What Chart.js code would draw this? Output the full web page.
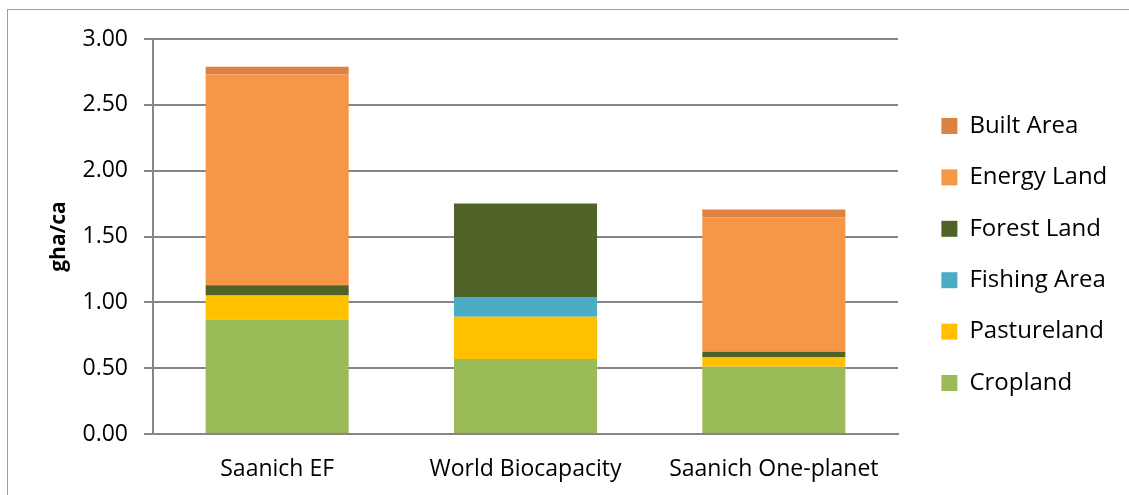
<!DOCTYPE html>
<html>
<head>
<meta charset="utf-8">
<script src="https://cdn.jsdelivr.net/npm/chart.js@4.4.1/dist/chart.umd.min.js"></script>
<style>
  html, body { margin: 0; padding: 0; background: #ffffff; }
  #wrap { position: relative; width: 1129px; height: 495px; overflow: hidden; }
  #frame { position: absolute; left: 7px; top: 9px; width: 1200px; height: 600px;
           border-top: 1.5px solid #a0a0a0; border-left: 1.5px solid #a0a0a0; }
  canvas { position: absolute; left: 0; top: 0; }
</style>
</head>
<body>
<div id="wrap">
  <div id="frame"></div>
  <canvas id="c" width="1129" height="495"></canvas>
</div>
<script>
const categories = ['Saanich EF', 'World Biocapacity', 'Saanich One-planet'];
const cropland    = [0.87, 0.57, 0.51];
const pastureland = [0.18, 0.32, 0.075];
const fishingArea = [0.005, 0.15, 0.0];
const forestLand  = [0.075, 0.71, 0.04];
const energyLand  = [1.60, 0.0, 1.02];
const builtArea   = [0.06, 0.0, 0.06];
const yTickValues = [0, 0.5, 1.0, 1.5, 2.0, 2.5, 3.0];

const FONT = '"Open Sans", "DejaVu Sans", sans-serif';
const GRID = '#868686';
const LEGEND_GAP = 16;
const LEGEND_WIDTH = 213;

const ds = (label, data, color) => ({
  label, data, backgroundColor: color, borderWidth: 0,
  barPercentage: 0.576, categoryPercentage: 1.0
});

const legendGapPlugin = {
  id: 'legendGap',
  afterInit(chart) {
    const lg = chart.legend;
    if (lg && !lg._patched) {
      const origFit = lg.fit;
      lg.fit = function () {
        origFit.call(this);
        this.width = LEGEND_WIDTH;
        this.right = this.left + this.width;
      };
      lg._patched = true;
    }
  },
  afterLayout(chart) {
    const lg = chart.legend;
    if (lg) {
      lg.left += LEGEND_GAP;
      lg.right += LEGEND_GAP;
    }
  }
};

function draw() {
  new Chart(document.getElementById('c'), {
    type: 'bar',
    data: {
      labels: categories,
      datasets: [
        ds('Cropland', cropland, '#9BBB59'),
        ds('Pastureland', pastureland, '#FFC000'),
        ds('Fishing Area', fishingArea, '#4BACC6'),
        ds('Forest Land', forestLand, '#4F6228'),
        ds('Energy Land', energyLand, '#F79646'),
        ds('Built Area', builtArea, '#DD8240')
      ]
    },
    plugins: [legendGapPlugin],
    options: {
      responsive: false,
      animation: false,
      devicePixelRatio: 1,
      layout: { padding: { left: 0, top: 14, right: 18, bottom: 0 } },
      plugins: {
        tooltip: { enabled: false },
        legend: {
          position: 'right',
          reverse: true,
          labels: {
            boxWidth: 16, boxHeight: 16, padding: 27.4,
            color: '#000000',
            font: { family: FONT, size: 24 }
          }
        }
      },
      scales: {
        x: {
          stacked: true,
          grid: { display: false, drawTicks: false },
          border: { display: true, color: GRID, width: 2 },
          ticks: { color: '#000000', padding: 22, font: { family: FONT, size: 23 } },
          afterFit: s => { s.height = 61; }
        },
        xTop: {
          type: 'category',
          position: 'top',
          display: true,
          grid: { display: false, drawTicks: false },
          border: { display: false },
          ticks: { display: false },
          afterFit: s => { s.height = 25; }
        },
        y: {
          stacked: true,
          min: 0, max: 3,
          afterBuildTicks: s => { s.ticks = yTickValues.map(v => ({ value: v })); },
          grid: { color: GRID, lineWidth: 2, tickLength: 9, drawTicks: true },
          border: { display: true, color: GRID, width: 2 },
          ticks: {
            color: '#000000', padding: 16,
            font: { family: FONT, size: 23 },
            callback: v => Number(v).toFixed(2)
          },
          title: {
            display: true, text: 'gha/ca', color: '#000000',
            font: { family: FONT, size: 21, weight: 'bold' },
            padding: { top: 46.4, bottom: 0 }
          },
          afterFit: s => { s.width = 153; }
        }
      }
    }
  });
}

Promise.all([
  document.fonts.load('24px "Open Sans"'),
  document.fonts.load('bold 21px "Open Sans"')
]).then(draw, draw);
</script>
</body>
</html>
